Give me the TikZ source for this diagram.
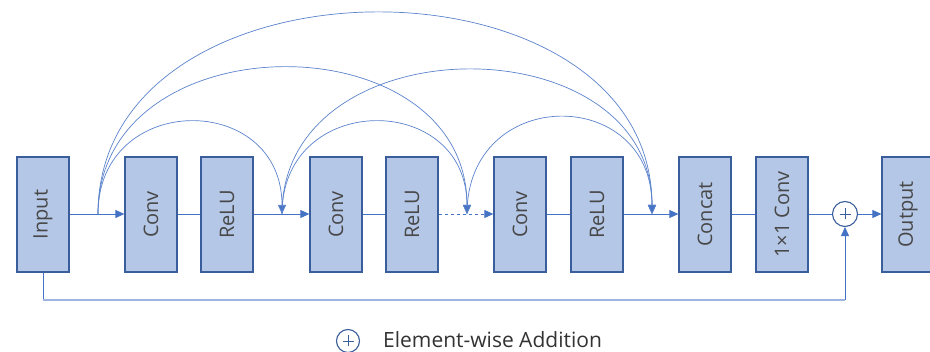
\documentclass[tikz,border=0pt]{standalone}
\usepackage{fontspec}
\setmainfont{Open Sans}
\usetikzlibrary{arrows.meta}
\definecolor{boxfill}{HTML}{B4C7E7}
\definecolor{boxdraw}{HTML}{3A5D9C}
\definecolor{lineblue}{HTML}{4472C4}
\definecolor{arcblue}{HTML}{5B83CC}
\definecolor{lightblue}{HTML}{9DB5E0}
\begin{document}
\begin{tikzpicture}[x=1pt,y=-1pt,
  layer/.style={draw=boxdraw,line width=1.3pt,fill=boxfill,minimum width=52pt,minimum height=115pt,inner sep=0pt,font=\fontsize{20}{20}\selectfont,text=black!72},
  addop/.style={circle,draw=boxdraw,line width=1.1pt,fill=white,minimum size=25pt,inner sep=0pt,
    path picture={\draw[boxdraw,line width=0.6pt] (path picture bounding box.center) ++(-5.5pt,0) -- ++(11pt,0) (path picture bounding box.center) ++(0,-5.5pt) -- ++(0,11pt);}},
  conn/.style={draw=lineblue,line width=0.8pt},
  arr/.style={conn,-{Triangle[length=9pt,width=8pt,fill=lineblue]}},
  skip/.style={arr,draw=arcblue,line width=0.7pt},
  fb/.style={draw=lightblue,line width=1.1pt}
]
\useasboundingbox (0,0) rectangle (930,352);
\clip (0,0) rectangle (930,352);
\fill[white] (0,0) rectangle (930,352);

\node[layer] (in) at (43,214.5) {\rotatebox{90}{Input}};
\node[layer] (c1) at (151,214.5) {\rotatebox{90}{Conv}};
\node[layer] (r1) at (227,214.5) {\rotatebox{90}{ReLU}};
\node[layer] (c2) at (336,214.5) {\rotatebox{90}{Conv}};
\node[layer] (r2) at (412,214.5) {\rotatebox{90}{ReLU}};
\node[layer] (c3) at (520,214.5) {\rotatebox{90}{Conv}};
\node[layer] (r3) at (597,214.5) {\rotatebox{90}{ReLU}};
\node[layer] (cat) at (705,214.5) {\rotatebox{90}{Concat}};
\node[layer] (c11) at (782,214.5) {\rotatebox{90}{1×1 Conv}};
\node[addop] (plus) at (845,214) {};
\node[layer] (out) at (908,214.5) {\rotatebox{90}{Output}};

\coordinate (b1) at (98,214);
\coordinate (b2) at (282,214);
\coordinate (b3) at (467,214);
\coordinate (b4) at (652,214);
\coordinate (k1) at (43,300);
\coordinate (k2) at (845,300);

% main chain
\draw[arr] (in.east |- b1) -- (c1.west |- b1);
\draw[conn] (c1.east |- b1) -- (r1.west |- b1);
\draw[arr] (r1.east |- b1) -- (c2.west |- b1);
\draw[conn] (c2.east |- b1) -- (r2.west |- b1);
\draw[arr,dashed,dash pattern=on 3pt off 3pt] (r2.east |- b1) -- (c3.west |- b1);
\draw[conn] (c3.east |- b1) -- (r3.west |- b1);
\draw[arr] (r3.east |- b1) -- (cat.west |- b1);
\draw[conn] (cat.east |- b1) -- (c11.west |- b1);
\draw[conn] (c11.east |- b1) -- (plus.west);
\draw[arr] (plus.east) -- (out.west |- plus);

% dense skip arcs
\draw[skip] (b1) .. controls +(0,-123) and +(0,-123) .. (b2);
\draw[skip] (b1) .. controls +(0,-195) and +(0,-195) .. (b3);
\draw[skip] (b1) .. controls +(0,-268) and +(0,-268) .. (b4);
\draw[skip] (b2) .. controls +(0,-123) and +(0,-123) .. (b3);
\draw[skip] (b2) .. controls +(0,-192) and +(0,-192) .. (b4);
\draw[skip] (b3) .. controls +(0,-129) and +(0,-129) .. (b4);

% global residual
\draw[conn] (in.south) -- (k1);
\draw[fb] (k1) -- (k2);
\draw[arr] (k2) -- (plus.south);

% legend
\node[addop,minimum size=23pt] (leg) at (348,341) {};
\node[anchor=west,inner sep=0pt,font=\fontsize{21}{21}\selectfont,text=black!80] (legtxt) at (383,339.5) {Element-wise Addition};
\end{tikzpicture}
\end{document}
